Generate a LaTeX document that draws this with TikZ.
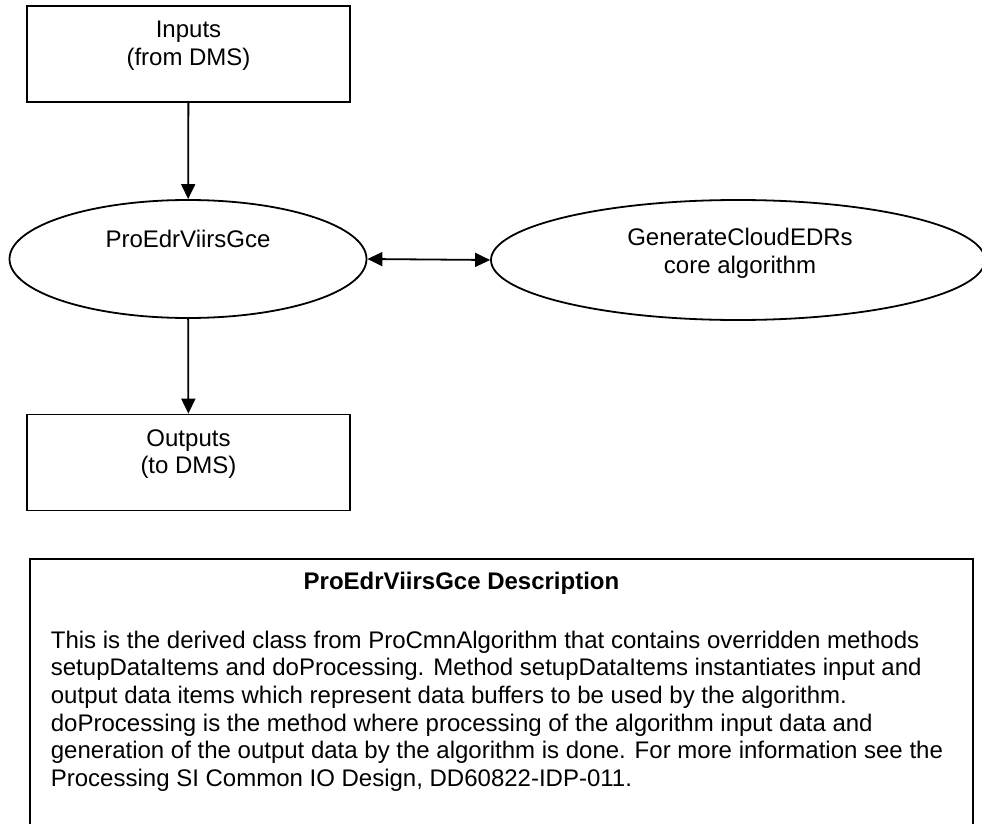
\documentclass[tikz,border=0pt]{standalone}
\usepackage{fontspec}
\setmainfont{Liberation Sans}
\usetikzlibrary{shapes.geometric,arrows.meta}

\begin{document}
\begin{tikzpicture}[x=1pt, y=-1pt, line width=1.8pt,
		box/.style={draw, rectangle, minimum width=323pt, minimum height=96pt},
		oval/.style={draw, ellipse, inner sep=0pt},
		txt/.style={align=center, font=\fontsize{24}{27.6}\selectfont},
		flow/.style={-{Triangle[length=15pt, width=14pt]}},
		twoway/.style={{Triangle[length=15pt, width=14pt]}-{Triangle[length=15pt, width=14pt]}}]
			\useasboundingbox (0, 0) rectangle (982, 824);
			\clip (0, 0) rectangle (982, 824);
			\draw (188.5, 54) 	node[box] 	(inputs) 		{};
			\draw (188.5, 46) 	node[txt] 	(inputs_t) 		{Inputs\\(from DMS)};
			\draw (188, 259) 	node[oval, minimum width=357pt, minimum height=118pt] 	(gce) 		{};
			\draw (188, 239) 	node[txt] 	(gce_t) 		{ProEdrViirsGce};
			\draw (738, 260) 	node[oval, minimum width=494pt, minimum height=120pt] 	(cloud) 	{};
			\draw (740, 253.5) 	node[txt] 	(cloud_t) 		{GenerateCloudEDRs\\core algorithm};
			\draw (188.5, 462.5) 	node[box] 	(outputs) 		{};
			\draw (188.5, 454) 	node[txt] 	(outputs_t) 		{Outputs\\(to DMS)};
			\draw (501.5, 709) 	node[draw, minimum width=943pt, minimum height=300pt] 	(desc) 		{};
			\draw (461.5, 583) 	node[txt] 	(desc_title) 	{\bfseries ProEdrViirsGce Description};
			\draw (50, 630) 	node[txt, align=left, anchor=north west, inner sep=0pt] 	(desc_body) 	{This is the derived class from ProCmnAlgorithm that contains overridden methods\\
setupDataItems and doProcessing. Method setupDataItems instantiates input and\\
output data items which represent data buffers to be used by the algorithm.\\
doProcessing is the method where processing of the algorithm input data and\\
generation of the output data by the algorithm is done. For more information see the\\
Processing SI Common IO Design, DD60822-IDP-011.};

			\draw[flow] (inputs) -- (gce);
			\draw[flow] (gce) -- (outputs);
			\draw[twoway] (gce.east) -- (cloud.west);
		\end{tikzpicture}
\end{document}
